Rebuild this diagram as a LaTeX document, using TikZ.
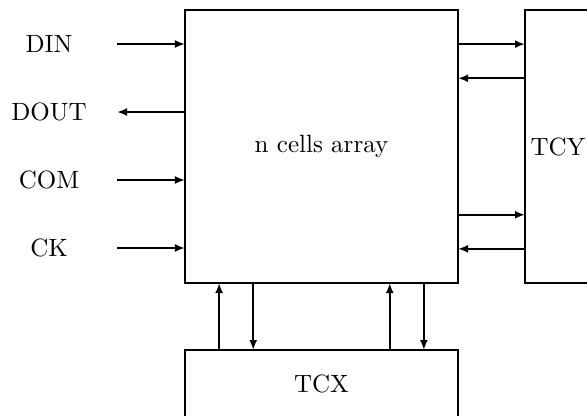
\documentclass[tikz,border=0pt]{standalone}
\usetikzlibrary{arrows.meta, positioning, calc}
\begin{document}
\begin{tikzpicture}[
    x=0.4pt, y=-0.4pt,
    node distance=26.8pt,
    block/.style={draw, rectangle, line width=0.9pt, inner sep=0pt, outer sep=0pt},
    pinlabel/.style={minimum width=54.4pt, inner sep=0pt, outer sep=0pt},
    arrow/.style={line width=0.9pt, -{Latex[length=4pt, width=3.2pt]}}
]
    \clip (0,0) rectangle (587,415);

    \node[block, minimum width=109.2pt, minimum height=109.2pt] (cells) at (321.5,146.5) {n cells array};
    \node[block, right=of cells, minimum width=26.4pt, minimum height=109.2pt] (tcy) {TCY};
    \node[block, below=of cells, minimum width=109.2pt, minimum height=26.8pt] (tcx) {TCX};

    \node[pinlabel] (din) at (49,44) {DIN};
    \node[pinlabel] (dout) at (49,112) {DOUT};
    \node[pinlabel] (com) at (49,180) {COM};
    \node[pinlabel] (ck) at (49,248) {CK};

    % points on the right and bottom sides of the array
    \coordinate (r1) at ($(cells.north east)!.125!(cells.south east)$);
    \coordinate (r2) at ($(cells.north east)!.25!(cells.south east)$);
    \coordinate (r3) at ($(cells.north east)!.75!(cells.south east)$);
    \coordinate (r4) at ($(cells.north east)!.875!(cells.south east)$);
    \coordinate (b1) at ($(cells.south west)!.125!(cells.south east)$);
    \coordinate (b2) at ($(cells.south west)!.25!(cells.south east)$);
    \coordinate (b3) at ($(cells.south west)!.75!(cells.south east)$);
    \coordinate (b4) at ($(cells.south west)!.875!(cells.south east)$);

    \draw[arrow] (din) -- (din -| cells.west);
    \draw[arrow] (dout -| cells.west) -- (dout);
    \draw[arrow] (com) -- (com -| cells.west);
    \draw[arrow] (ck) -- (ck -| cells.west);

    \draw[arrow] (r1) -- (r1 -| tcy.west);
    \draw[arrow] (r2 -| tcy.west) -- (r2);
    \draw[arrow] (r3) -- (r3 -| tcy.west);
    \draw[arrow] (r4 -| tcy.west) -- (r4);

    \draw[arrow] (b1 |- tcx.north) -- (b1);
    \draw[arrow] (b2) -- (b2 |- tcx.north);
    \draw[arrow] (b3 |- tcx.north) -- (b3);
    \draw[arrow] (b4) -- (b4 |- tcx.north);

\end{tikzpicture}
\end{document}
